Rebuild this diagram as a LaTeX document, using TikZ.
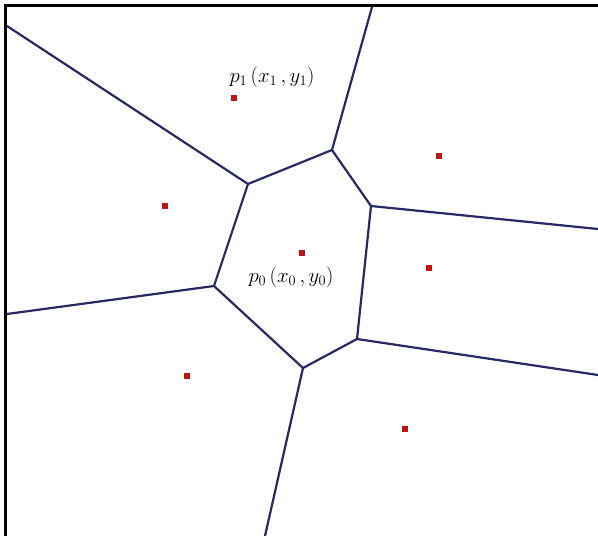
\documentclass[tikz,border=0pt]{standalone}
\usepackage{fontspec}
\setmainfont{Liberation Serif}
\begin{document}
\begin{tikzpicture}[x=1pt,y=-1pt,
  edge/.style={draw={rgb,255:red,40;green,40;blue,100}, line width=2.2pt},
  site/.style={fill={rgb,255:red,190;green,20;blue,20}, minimum size=6pt, inner sep=0pt, draw=none},
  lbl/.style={font=\fontsize{20}{23}\selectfont, inner sep=0pt}]
\useasboundingbox (0,0) rectangle (598,536);
\fill[white] (0,0) rectangle (598,536);
% frame
\draw[black, line width=3pt] (5.5,536) -- (5.5,5.5) -- (598,5.5);
% vertices
\coordinate (v1) at (248,184);
\coordinate (v2) at (332,150);
\coordinate (v3) at (371,206);
\coordinate (v4) at (357,339);
\coordinate (v5) at (303,368);
\coordinate (v6) at (214,286);
\coordinate (e1) at (7,26);
\coordinate (e2) at (372,7);
\coordinate (e3) at (598,229);
\coordinate (e4) at (598,375);
\coordinate (e5) at (265,536);
\coordinate (e6) at (7,314);
\draw[edge, line join=round] (v1) -- (v2) -- (v3) -- (v4) -- (v5) -- (v6) -- cycle;
\draw[edge] (v1) -- (e1);
\draw[edge] (v2) -- (e2);
\draw[edge] (v3) -- (e3);
\draw[edge] (v4) -- (e4);
\draw[edge] (v5) -- (e5);
\draw[edge] (v6) -- (e6);
% sites
\node[site] (p1) at (234,98) {};
\node[site] (s2) at (439,156) {};
\node[site] (s3) at (165,206) {};
\node[site] (p0) at (302,253) {};
\node[site] (s5) at (429,268) {};
\node[site] (s6) at (187,376) {};
\node[site] (s7) at (405,429) {};
% labels
\node[lbl] (l1) at (272,77) {$p_1\,(x_1\,,y_1)$};
\node[lbl] (l0) at (291,277) {$p_0\,(x_0\,,y_0)$};
\end{tikzpicture}
\end{document}
